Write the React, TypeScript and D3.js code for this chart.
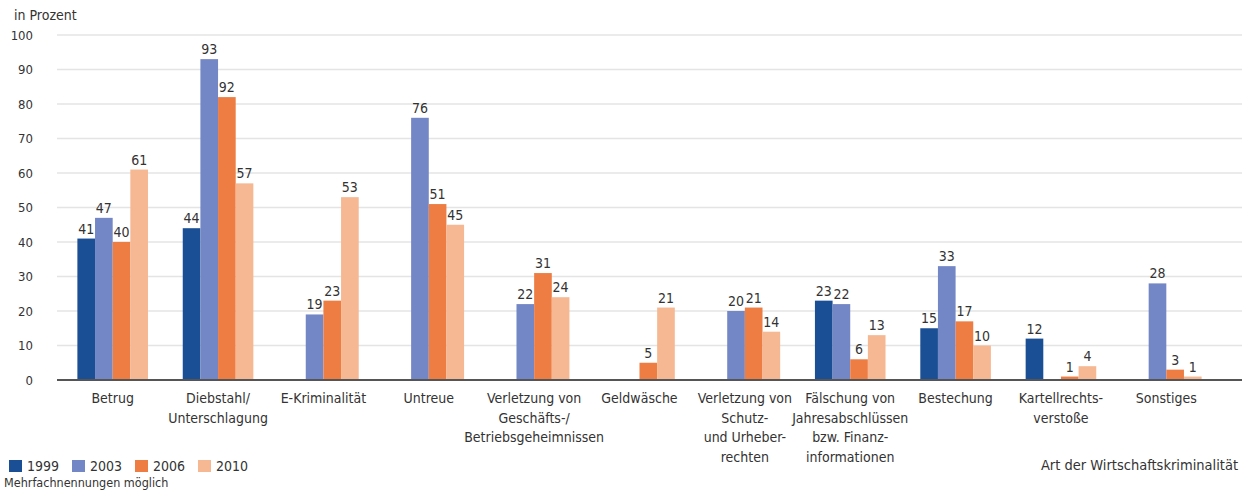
import React, { useEffect, useRef } from 'react';
import * as d3 from 'd3';

const categories = [
  ['Betrug'],
  ['Diebstahl/', 'Unterschlagung'],
  ['E-Kriminalität'],
  ['Untreue'],
  ['Verletzung von', 'Geschäfts-/', 'Betriebsgeheimnissen'],
  ['Geldwäsche'],
  ['Verletzung von', 'Schutz-', 'und Urheber-', 'rechten'],
  ['Fälschung von', 'Jahresabschlüssen', 'bzw. Finanz-', 'informationen'],
  ['Bestechung'],
  ['Kartellrechts-', 'verstoße'],
  ['Sonstiges'],
];

const years = ['1999', '2003', '2006', '2010'];

const values1999 = [41, 44, null, null, null, null, null, 23, 15, 12, null];
const values2003 = [47, 93, 19, 76, 22, null, 20, 22, 33, null, 28];
const values2006 = [40, 82, 23, 51, 31, 5, 21, 6, 17, 1, 3];
const values2010 = [61, 57, 53, 45, 24, 21, 14, 13, 10, 4, 1];

// the printed label of 2006 Diebstahl reads 92 while its bar stands at about 82
const labels2006 = ['40', '92', '23', '51', '31', '5', '21', '6', '17', '1', '3'];

const yTicks = [0, 10, 20, 30, 40, 50, 60, 70, 80, 90, 100];

const colors = ['#1b4f95', '#7386c5', '#ee7d43', '#f6b892'];

const FONT = '"DejaVu Sans Condensed", "Liberation Sans Narrow", "Roboto", sans-serif';

export default function App() {
  const svgRef = useRef<SVGSVGElement>(null);
  const width = 1242;
  const height = 494;

  useEffect(() => {
    document.body.style.margin = '0';
    if (!svgRef.current) return;

    const series = [values1999, values2003, values2006, values2010];
    const labelSeries = [
      values1999.map(v => (v == null ? '' : String(v))),
      values2003.map(v => (v == null ? '' : String(v))),
      labels2006,
      values2010.map(v => (v == null ? '' : String(v))),
    ];

    const svg = d3.select(svgRef.current);
    svg.selectAll('*').remove();
    svg.style('font-family', FONT);

    const y = d3.scaleLinear().domain([0, 100]).range([380, 35]);
    const x0 = d3.scaleBand<number>()
      .domain(categories.map((_, i) => i))
      .range([60, 1219])
      .paddingInner(0.33)
      .paddingOuter(0.165);
    const x1 = d3.scaleBand<number>()
      .domain(years.map((_, i) => i))
      .range([0, x0.bandwidth()]);

    // gridlines
    svg.append('g')
      .selectAll('line')
      .data(yTicks.filter(t => t > 0))
      .join('line')
      .attr('x1', 57)
      .attr('x2', 1242)
      .attr('y1', d => y(d))
      .attr('y2', d => y(d))
      .attr('stroke', '#e4e4e4')
      .attr('stroke-width', 1.5);

    // y tick labels
    svg.append('g')
      .selectAll('text')
      .data(yTicks)
      .join('text')
      .attr('x', 33)
      .attr('y', d => y(d))
      .attr('dy', '0.35em')
      .attr('text-anchor', 'end')
      .attr('font-size', 13)
      .attr('fill', '#333')
      .text(d => d);

    svg.append('text')
      .attr('x', 14)
      .attr('y', 20)
      .attr('font-size', 14)
      .attr('fill', '#333')
      .text('in Prozent');

    // bars
    const groups = svg.append('g')
      .selectAll('g')
      .data(categories.map((_, i) => i))
      .join('g')
      .attr('transform', i => `translate(${x0(i)},0)`);

    groups.each(function (ci) {
      const g = d3.select(this);
      const items = years
        .map((_, si) => ({ si, v: series[si][ci], label: labelSeries[si][ci] }))
        .filter(d => d.v != null) as { si: number; v: number; label: string }[];

      g.selectAll('rect')
        .data(items)
        .join('rect')
        .attr('x', d => x1(d.si)!)
        .attr('width', x1.bandwidth())
        .attr('y', d => y(d.v))
        .attr('height', d => y(0) - y(d.v))
        .attr('fill', d => colors[d.si]);

      g.selectAll('text')
        .data(items)
        .join('text')
        .attr('x', d => x1(d.si)! + x1.bandwidth() / 2)
        .attr('y', d => y(d.v) - 5)
        .attr('text-anchor', 'middle')
        .attr('font-size', 14)
        .attr('fill', '#333')
        .text(d => d.label);
    });

    // baseline
    svg.append('line')
      .attr('x1', 57)
      .attr('x2', 1242)
      .attr('y1', y(0))
      .attr('y2', y(0))
      .attr('stroke', '#555')
      .attr('stroke-width', 2);

    // category labels
    const catLabels = svg.append('g')
      .selectAll('text')
      .data(categories)
      .join('text')
      .attr('x', (_, i) => x0(i)! + x0.bandwidth() / 2)
      .attr('y', 403)
      .attr('text-anchor', 'middle')
      .attr('font-size', 14)
      .attr('fill', '#333');

    catLabels.selectAll('tspan')
      .data(d => d)
      .join('tspan')
      .attr('x', function () {
        return (this.parentNode as SVGTextElement).getAttribute('x');
      })
      .attr('dy', (_, j) => (j === 0 ? 0 : 19.5))
      .text(d => d);

    // legend
    const legend = svg.append('g')
      .selectAll('g')
      .data(years)
      .join('g')
      .attr('transform', (_, i) => `translate(${9 + i * 63},460)`);

    legend.append('rect')
      .attr('width', 13)
      .attr('height', 12)
      .attr('fill', (_, i) => colors[i]);

    legend.append('text')
      .attr('x', 18)
      .attr('y', 6)
      .attr('dy', '0.35em')
      .attr('font-size', 14)
      .attr('fill', '#333')
      .text(d => d);

    svg.append('text')
      .attr('x', 4)
      .attr('y', 487)
      .attr('font-size', 12.5)
      .attr('fill', '#333')
      .text('Mehrfachnennungen möglich');

    svg.append('text')
      .attr('x', 1238)
      .attr('y', 470)
      .attr('text-anchor', 'end')
      .attr('font-size', 14.5)
      .attr('fill', '#333')
      .text('Art der Wirtschaftskriminalität');
  }, []);

  return <svg ref={svgRef} width={width} height={height} style={{ display: 'block', background: '#fff' }} />;
}
